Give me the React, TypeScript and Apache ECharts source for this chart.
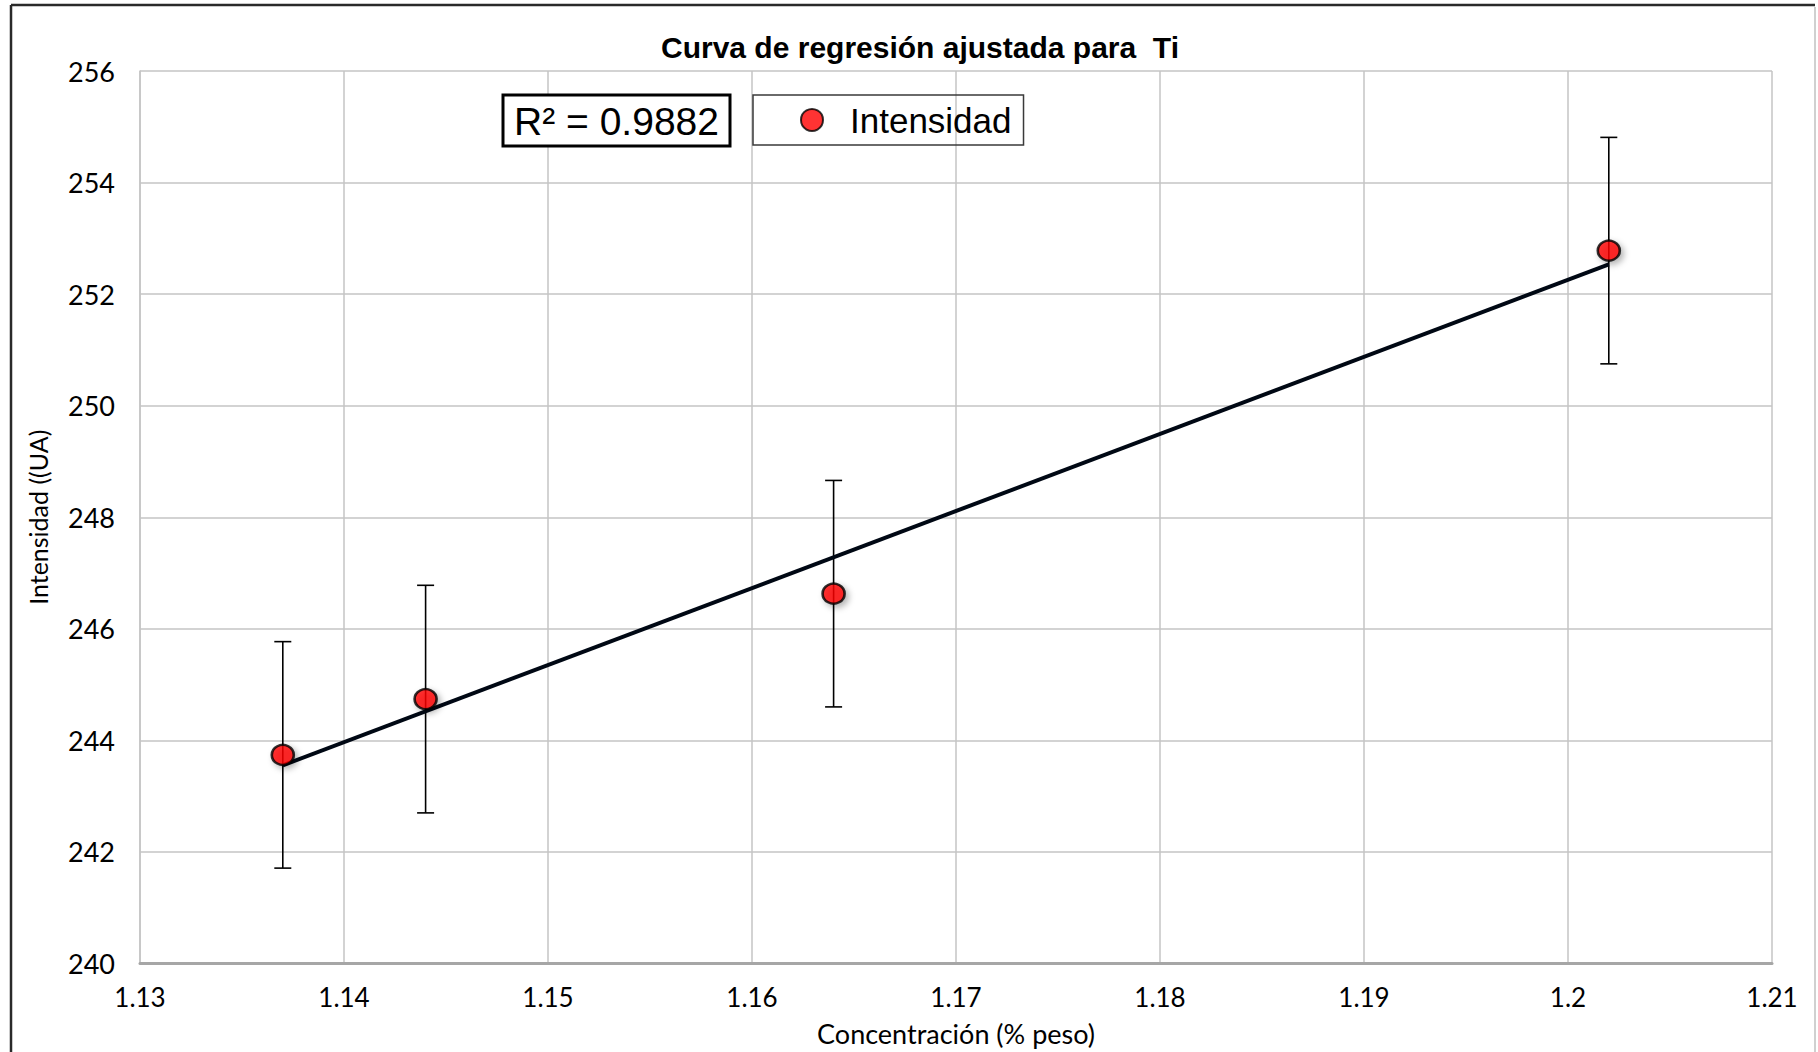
import React, { useEffect, useRef } from "react";
import * as echarts from "echarts";

const concentracion = [1.137, 1.144, 1.164, 1.202];
const intensidad = [243.74, 244.74, 246.63, 252.78];
const errorIntensidad = [2.03, 2.04, 2.03, 2.03];
const xTicks = { min: 1.13, max: 1.21, interval: 0.01 };
const yTicks = { min: 240, max: 256, interval: 2 };
const titleText = "Curva de regresión ajustada para  Ti";
const r2Text = "R² = 0.9882";
const seriesName = "Intensidad";
const xName = "Concentración (% peso)";
const yName = "Intensidad ((UA)";

function linearFit(xs: number[], ys: number[]) {
  const n = xs.length;
  const mx = xs.reduce((a, b) => a + b, 0) / n;
  const my = ys.reduce((a, b) => a + b, 0) / n;
  let sxy = 0;
  let sxx = 0;
  for (let i = 0; i < n; i++) {
    sxy += (xs[i] - mx) * (ys[i] - my);
    sxx += (xs[i] - mx) * (xs[i] - mx);
  }
  const slope = sxy / sxx;
  return { slope, intercept: my - slope * mx };
}

export default function App() {
  const ref = useRef<HTMLDivElement>(null);
  useEffect(() => {
    if (!ref.current) return;
    const chart = echarts.init(ref.current, undefined, { renderer: "svg" });
    const fit = linearFit(concentracion, intensidad);
    const x0 = Math.min(...concentracion);
    const x1 = Math.max(...concentracion);
    const trend = [
      [x0, fit.intercept + fit.slope * x0],
      [x1, fit.intercept + fit.slope * x1],
    ];
    const points = concentracion.map((x, i) => [x, intensidad[i]]);
    const errData = concentracion.map((x, i) => [
      x,
      intensidad[i] - errorIntensidad[i],
      intensidad[i] + errorIntensidad[i],
    ]);
    const tickFont = "Lato";
    chart.setOption({
      animation: false,
      backgroundColor: "#ffffff",
      title: {
        text: titleText,
        left: 656,
        top: 26,
        textStyle: {
          fontFamily: "Liberation Sans",
          fontWeight: "bold",
          fontSize: 30,
          color: "#000",
          lineHeight: 32,
        },
      },
      legend: {
        data: [seriesName],
        left: 753,
        top: 95,
        orient: "horizontal",
        padding: [7, 12, 7, 47],
        itemWidth: 22,
        itemHeight: 22,
        itemGap: 26,
        borderColor: "#3a3a3a",
        borderWidth: 1.5,
        textStyle: {
          fontFamily: "Liberation Sans",
          fontSize: 35,
          color: "#000",
          lineHeight: 36,
          padding: [0, 0, 0, 22],
        },
      },
      grid: { left: 140, right: 46, top: 71, bottom: 88.5 },
      xAxis: {
        type: "value",
        min: xTicks.min,
        max: xTicks.max,
        interval: xTicks.interval,
        name: xName,
        nameLocation: "middle",
        nameGap: 56,
        nameTextStyle: { fontFamily: tickFont, fontSize: 27, color: "#000" },
        axisLine: { show: true, lineStyle: { color: "#a6a6a6", width: 3 } },
        axisTick: { show: false },
        axisLabel: {
          fontFamily: tickFont,
          fontSize: 26,
          color: "#000",
          margin: 20,
          formatter: (v: number) => String(Number(v.toFixed(2))),
        },
        splitLine: { show: true, lineStyle: { color: "#c4c4c4", width: 1.5 } },
      },
      yAxis: {
        type: "value",
        min: yTicks.min,
        max: yTicks.max,
        interval: yTicks.interval,
        name: yName,
        nameLocation: "middle",
        nameGap: 90,
        nameTextStyle: { fontFamily: tickFont, fontSize: 25, color: "#000" },
        axisLine: { show: true, lineStyle: { color: "#c4c4c4", width: 1.5 } },
        axisTick: { show: false },
        axisLabel: {
          fontFamily: tickFont,
          fontSize: 27,
          color: "#000",
          margin: 25,
        },
        splitLine: { show: true, lineStyle: { color: "#c4c4c4", width: 1.5 } },
      },
      graphic: [
        {
          type: "line",
          shape: { x1: 11, y1: 5, x2: 1815, y2: 5 },
          style: { stroke: "#2a2a2a", lineWidth: 2.5 },
          z: 10,
        },
        {
          type: "line",
          shape: { x1: 11, y1: 5, x2: 11, y2: 1052 },
          style: { stroke: "#2a2a2a", lineWidth: 2.5 },
          z: 10,
        },
        {
          type: "line",
          shape: { x1: 1815, y1: 7, x2: 1815, y2: 1052 },
          style: { stroke: "#d0d0d0", lineWidth: 2 },
          z: 10,
        },
        {
          type: "rect",
          shape: { x: 503, y: 95, width: 227, height: 51 },
          style: { fill: "#ffffff", stroke: "#000000", lineWidth: 3 },
          z: 10,
        },
        {
          type: "text",
          x: 616.5,
          y: 121,
          style: {
            text: r2Text,
            font: "39px 'Liberation Sans'",
            fill: "#000",
            align: "center",
            verticalAlign: "middle",
          },
          z: 11,
        },
      ],
      series: [
        {
          name: "error",
          type: "custom",
          data: errData,
          encode: { x: 0, y: [1, 2] },
          z: 2,
          silent: true,
          renderItem: (params: any, api: any) => {
            const x = api.value(0);
            const lo = api.coord([x, api.value(1)]);
            const hi = api.coord([x, api.value(2)]);
            const cw = 8.5;
            const st = { stroke: "#000", lineWidth: 1.6 };
            return {
              type: "group",
              children: [
                { type: "line", shape: { x1: lo[0], y1: lo[1], x2: hi[0], y2: hi[1] }, style: st },
                { type: "line", shape: { x1: lo[0] - cw, y1: lo[1], x2: lo[0] + cw, y2: lo[1] }, style: st },
                { type: "line", shape: { x1: hi[0] - cw, y1: hi[1], x2: hi[0] + cw, y2: hi[1] }, style: st },
              ],
            };
          },
        },
        {
          name: "trend",
          type: "line",
          data: trend,
          showSymbol: false,
          symbol: "none",
          z: 3,
          silent: true,
          lineStyle: { color: "#000814", width: 4 },
        },
        {
          name: seriesName,
          type: "scatter",
          data: points,
          symbol: "circle",
          symbolSize: [22, 20],
          z: 4,
          itemStyle: {
            color: "#ff0000",
            borderColor: "#000000",
            borderWidth: 2.5,
            shadowBlur: 6,
            shadowOffsetX: 3,
            shadowOffsetY: 3,
            shadowColor: "rgba(0,0,0,0.35)",
          },
        },
      ],
    });
    return () => chart.dispose();
  }, []);
  return (
    <div
      ref={ref}
      style={{ position: "fixed", left: 0, top: 0, width: 1818, height: 1052 }}
    />
  );
}
